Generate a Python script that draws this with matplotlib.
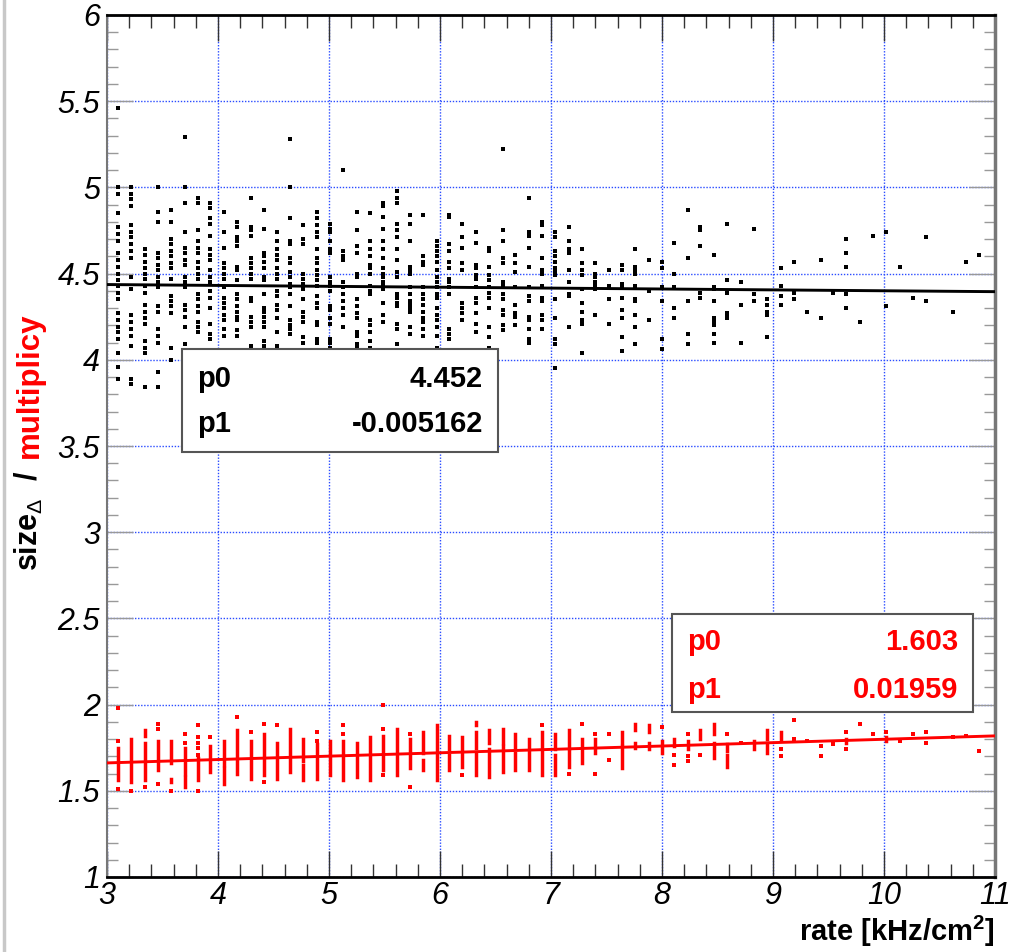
import numpy as np
import matplotlib
matplotlib.use("Agg")
import matplotlib.pyplot as plt
from matplotlib.ticker import MultipleLocator, FuncFormatter
from matplotlib.patches import Rectangle
from matplotlib.lines import Line2D

# ---------------- data ----------------
# rate bins (kHz/cm^2)
rate_bins = [3.10, 3.22, 3.34, 3.46, 3.58, 3.70, 3.82, 3.93, 4.05, 4.17,
             4.30, 4.41, 4.53, 4.65, 4.77, 4.89, 5.01, 5.13, 5.25, 5.37,
             5.49, 5.61, 5.73, 5.85, 5.97, 6.08, 6.20, 6.32, 6.44, 6.57,
             6.68, 6.80, 6.92, 7.04, 7.16, 7.28, 7.40, 7.52, 7.64, 7.76,
             7.88, 8.00, 8.11, 8.23, 8.34, 8.47, 8.59, 8.71, 8.83, 8.95,
             9.07, 9.19, 9.31, 9.43, 9.54, 9.66, 9.78, 9.90, 10.02, 10.14,
             10.26, 10.38, 10.62, 10.74, 10.86]

# cluster size per rate bin
size_values = [
    [5.46, 5.00, 4.96, 4.85, 4.77, 4.73, 4.69, 4.62, 4.58, 4.54, 4.50, 4.46, 4.43, 4.39, 4.35, 4.27, 4.23, 4.19, 4.16, 4.12, 4.04, 3.96, 3.89],
    [5.00, 4.96, 4.93, 4.89, 4.78, 4.74, 4.71, 4.67, 4.63, 4.59, 4.48, 4.41, 4.26, 4.22, 4.18, 4.14, 4.08, 3.89, 3.86],
    [4.64, 4.61, 4.57, 4.53, 4.50, 4.47, 4.43, 4.39, 4.32, 4.28, 4.24, 4.21, 4.11, 4.07, 4.04, 3.84],
    [5.00, 4.86, 4.80, 4.62, 4.59, 4.55, 4.52, 4.48, 4.45, 4.42, 4.31, 4.28, 4.18, 4.14, 4.10, 3.93, 3.84],
    [4.87, 4.80, 4.70, 4.67, 4.63, 4.60, 4.56, 4.53, 4.47, 4.37, 4.34, 4.31, 4.27, 4.07, 4.00],
    [5.29, 5.00, 4.91, 4.74, 4.65, 4.62, 4.58, 4.55, 4.48, 4.45, 4.42, 4.32, 4.29, 4.25, 4.19, 4.09],
    [4.94, 4.91, 4.75, 4.69, 4.65, 4.62, 4.57, 4.53, 4.50, 4.47, 4.38, 4.35, 4.31, 4.28, 4.22, 4.19, 4.16],
    [4.91, 4.88, 4.82, 4.79, 4.72, 4.64, 4.61, 4.58, 4.52, 4.48, 4.45, 4.40, 4.36, 4.30, 4.21, 4.15, 4.12],
    [4.86, 4.74, 4.65, 4.56, 4.53, 4.50, 4.47, 4.42, 4.36, 4.33, 4.30, 4.26, 4.23, 4.18, 4.14],
    [4.80, 4.77, 4.71, 4.69, 4.66, 4.54, 4.52, 4.46, 4.38, 4.35, 4.31, 4.28, 4.25, 4.23, 4.17, 4.14],
    [4.94, 4.77, 4.75, 4.72, 4.59, 4.56, 4.53, 4.50, 4.47, 4.36, 4.34, 4.25, 4.22, 4.19, 4.08],
    [4.87, 4.76, 4.62, 4.60, 4.57, 4.53, 4.48, 4.46, 4.38, 4.30, 4.28, 4.25, 4.22, 4.19, 4.11, 4.08],
    [4.74, 4.69, 4.64, 4.61, 4.58, 4.53, 4.50, 4.47, 4.40, 4.37, 4.32, 4.29, 4.24, 4.16, 4.08],
    [5.28, 5.00, 4.82, 4.69, 4.67, 4.59, 4.56, 4.51, 4.48, 4.44, 4.42, 4.38, 4.31, 4.23, 4.20, 4.18, 4.15],
    [4.78, 4.70, 4.67, 4.50, 4.47, 4.44, 4.41, 4.35, 4.28, 4.25, 4.22, 4.13, 4.10],
    [4.86, 4.82, 4.78, 4.74, 4.71, 4.64, 4.59, 4.56, 4.52, 4.49, 4.46, 4.43, 4.37, 4.33, 4.30, 4.22, 4.20, 4.12, 4.10],
    [4.79, 4.76, 4.74, 4.69, 4.64, 4.62, 4.48, 4.45, 4.43, 4.40, 4.31, 4.29, 4.24, 4.21, 4.12, 4.10, 4.07],
    [5.10, 4.63, 4.60, 4.58, 4.45, 4.42, 4.38, 4.34, 4.30, 4.26, 4.19],
    [4.86, 4.75, 4.66, 4.62, 4.50, 4.48, 4.35, 4.31, 4.27, 4.24, 4.16, 4.14, 4.09, 4.07],
    [4.85, 4.69, 4.64, 4.60, 4.55, 4.53, 4.50, 4.43, 4.40, 4.38, 4.23, 4.20, 4.16, 4.11, 4.07],
    [4.91, 4.89, 4.83, 4.76, 4.69, 4.64, 4.59, 4.53, 4.50, 4.48, 4.45, 4.43, 4.41, 4.33, 4.26, 4.22],
    [4.98, 4.94, 4.91, 4.79, 4.75, 4.71, 4.64, 4.58, 4.51, 4.48, 4.38, 4.36, 4.33, 4.31, 4.21, 4.18, 4.09],
    [4.84, 4.79, 4.69, 4.54, 4.52, 4.50, 4.42, 4.38, 4.34, 4.32, 4.30, 4.28, 4.19, 4.15],
    [4.84, 4.60, 4.57, 4.55, 4.42, 4.38, 4.35, 4.32, 4.28, 4.24, 4.22, 4.18, 4.14],
    [4.69, 4.66, 4.63, 4.60, 4.57, 4.52, 4.48, 4.45, 4.42, 4.38, 4.36, 4.30, 4.26, 4.23, 4.19, 4.14, 4.07],
    [4.84, 4.83, 4.67, 4.63, 4.57, 4.53, 4.47, 4.45, 4.42, 4.38, 4.18, 4.15, 4.12],
    [4.79, 4.71, 4.65, 4.56, 4.52, 4.33, 4.30, 4.27, 4.23],
    [4.74, 4.68, 4.55, 4.53, 4.49, 4.47, 4.42, 4.36, 4.33, 4.27, 4.21, 4.16],
    [4.65, 4.63, 4.54, 4.49, 4.46, 4.42, 4.39, 4.36, 4.30, 4.19, 4.13, 4.07],
    [5.22, 4.75, 4.69, 4.59, 4.56, 4.45, 4.43, 4.38, 4.35, 4.29, 4.26, 4.20, 4.17],
    [4.61, 4.56, 4.51, 4.42, 4.32, 4.27, 4.25, 4.20],
    [4.94, 4.74, 4.72, 4.65, 4.54, 4.42, 4.37, 4.34, 4.25, 4.23, 4.18, 4.12, 4.10],
    [4.80, 4.78, 4.72, 4.59, 4.52, 4.50, 4.43, 4.42, 4.36, 4.34, 4.26, 4.23, 4.18],
    [4.74, 4.71, 4.63, 4.60, 4.57, 4.53, 4.51, 4.49, 4.35, 4.24, 4.12, 4.09, 3.95],
    [4.77, 4.69, 4.64, 4.62, 4.52, 4.45, 4.38, 4.37, 4.19],
    [4.64, 4.56, 4.52, 4.49, 4.41, 4.33, 4.28, 4.23, 4.21, 4.04],
    [4.56, 4.50, 4.48, 4.45, 4.43, 4.41, 4.26],
    [4.52, 4.43, 4.35, 4.21],
    [4.55, 4.52, 4.44, 4.42, 4.36, 4.29, 4.24, 4.13, 4.05],
    [4.64, 4.54, 4.52, 4.50, 4.43, 4.35, 4.34, 4.26, 4.19, 4.09],
    [4.58, 4.40, 4.23],
    [4.57, 4.53, 4.42, 4.34, 4.12, 4.06],
    [4.68, 4.50, 4.42, 4.30, 4.24],
    [4.87, 4.59, 4.34, 4.15, 4.09],
    [4.77, 4.75, 4.66, 4.39, 4.36],
    [4.61, 4.42, 4.41, 4.34, 4.24, 4.22, 4.20, 4.15, 4.10],
    [4.79, 4.46, 4.39, 4.27, 4.25, 4.24],
    [4.45, 4.32, 4.10],
    [4.76, 4.38, 4.34],
    [4.35, 4.32, 4.28, 4.26, 4.13],
    [4.53, 4.43, 4.37, 4.32],
    [4.57, 4.39, 4.35],
    [4.28],
    [4.58, 4.24],
    [4.39],
    [4.70, 4.62, 4.54, 4.38, 4.30],
    [4.22],
    [4.72],
    [4.74, 4.31],
    [4.54],
    [4.36],
    [4.71, 4.34],
    [4.28],
    [4.57],
    [4.61],
]

# multiplicity: densely filled ranges per rate bin (rate, low, high)
mult_band_rate = [3.10, 3.22, 3.34, 3.34, 3.46, 3.58, 3.58, 3.70, 3.70, 3.82,
                  3.93, 4.05, 4.05, 4.17, 4.30, 4.41, 4.53, 4.65, 4.77, 4.77,
                  4.89, 5.01, 5.13, 5.25, 5.37, 5.49, 5.61, 5.73, 5.85, 5.85,
                  5.97, 6.08, 6.08, 6.20, 6.32, 6.32, 6.32, 6.44, 6.44, 6.57,
                  6.57, 6.68, 6.68, 6.80, 6.92, 7.04, 7.04, 7.16, 7.16, 7.28,
                  7.40, 7.64, 7.64, 7.76, 7.76, 7.88, 7.88, 8.00, 8.11, 8.23,
                  8.34, 8.47, 8.47, 8.59, 8.59, 8.83, 8.95, 8.95, 9.07, 9.66,
                  10.02]
mult_band_low = [1.56, 1.55, 1.82, 1.56, 1.62, 1.66, 1.55, 1.60, 1.52, 1.56,
                 1.61, 1.65, 1.54, 1.60, 1.57, 1.59, 1.57, 1.61, 1.67, 1.56,
                 1.57, 1.59, 1.56, 1.58, 1.56, 1.62, 1.59, 1.63, 1.72, 1.62,
                 1.56, 1.74, 1.62, 1.64, 1.88, 1.75, 1.59, 1.78, 1.58, 1.78,
                 1.61, 1.75, 1.62, 1.62, 1.59, 1.74, 1.59, 1.75, 1.64, 1.66,
                 1.72, 1.78, 1.63, 1.85, 1.75, 1.84, 1.74, 1.72, 1.76, 1.74,
                 1.80, 1.83, 1.69, 1.73, 1.64, 1.74, 1.80, 1.72, 1.80, 1.78,
                 1.79]
mult_band_high = [1.75, 1.80, 1.85, 1.78, 1.79, 1.79, 1.57, 1.75, 1.58, 1.69,
                  1.76, 1.79, 1.63, 1.85, 1.79, 1.83, 1.78, 1.86, 1.80, 1.65,
                  1.77, 1.79, 1.79, 1.78, 1.81, 1.82, 1.86, 1.80, 1.84, 1.68,
                  1.88, 1.82, 1.71, 1.81, 1.90, 1.84, 1.72, 1.85, 1.74, 1.86,
                  1.76, 1.83, 1.72, 1.80, 1.84, 1.83, 1.71, 1.85, 1.73, 1.80,
                  1.80, 1.84, 1.76, 1.89, 1.78, 1.88, 1.78, 1.79, 1.80, 1.79,
                  1.85, 1.89, 1.78, 1.77, 1.71, 1.79, 1.85, 1.78, 1.84, 1.80,
                  1.81]

# multiplicity: isolated entries (rate, value)
mult_point_rate = [3.10, 3.10, 3.10, 3.22, 3.34, 3.46, 3.46, 3.46, 3.58, 3.70,
                   3.70, 3.82, 3.82, 3.82, 3.82, 3.82, 3.82, 3.93, 4.17, 4.30,
                   4.41, 4.41, 4.53, 4.89, 4.89, 5.13, 5.13, 5.49, 5.49, 5.49,
                   5.73, 5.73, 6.20, 6.92, 7.16, 7.28, 7.40, 7.40, 7.52, 7.52,
                   8.00, 8.11, 8.11, 8.23, 8.23, 8.23, 8.34, 8.59, 8.71, 9.07,
                   9.07, 9.19, 9.19, 9.31, 9.43, 9.43, 9.54, 9.66, 9.66, 9.78,
                   9.90, 10.02, 10.14, 10.26, 10.38, 10.38, 10.62, 10.74, 10.86]
mult_point_value = [1.98, 1.79, 1.51, 1.50, 1.52, 1.89, 1.86, 1.54, 1.50, 1.83,
                    1.78, 1.88, 1.81, 1.78, 1.75, 1.71, 1.50, 1.81, 1.93, 1.84,
                    1.89, 1.55, 1.88, 1.84, 1.79, 1.88, 1.83, 2.00, 1.86, 1.59,
                    1.83, 1.52, 1.59, 1.88, 1.60, 1.89, 1.83, 1.60, 1.83, 1.68,
                    1.87, 1.71, 1.65, 1.83, 1.70, 1.67, 1.71, 1.83, 1.78, 1.74,
                    1.70, 1.91, 1.80, 1.79, 1.76, 1.70, 1.77, 1.84, 1.74, 1.89,
                    1.83, 1.84, 1.79, 1.83, 1.84, 1.78, 1.81, 1.82, 1.73]

# linear fit results  y = p0 + p1 * rate
size_fit = (4.452, -0.005162)
mult_fit = (1.603, 0.01959)

# ---------------- style ----------------
FONT = "Liberation Sans"
plt.rcParams["font.family"] = [FONT, "DejaVu Sans"]
plt.rcParams["mathtext.fontset"] = "custom"
plt.rcParams["mathtext.rm"] = FONT
plt.rcParams["mathtext.bf"] = FONT + ":bold"

W, H = 1010, 952
fig = plt.figure(figsize=(W / 100, H / 100), dpi=100)
fig.patch.set_facecolor("white")


def fx(px):
    return px / W


def fy(py):
    return 1 - py / H


L, R, T, B = 107, 995, 15, 877
ax = fig.add_axes([fx(L), fy(B), (R - L) / W, (B - T) / H])
ax.set_xlim(3, 11)
ax.set_ylim(1, 6)

# ---------------- marks ----------------
sx = [r for r, vals in zip(rate_bins, size_values) for _ in vals]
sy = [v for vals in size_values for v in vals]
ax.scatter(sx, sy, marker="s", s=7, c="black", linewidths=0, zorder=3)

ax.vlines(mult_band_rate, mult_band_low, mult_band_high, colors="red",
          linewidth=2.5, capstyle="projecting", zorder=3)
ax.scatter(mult_point_rate, mult_point_value, marker="s", s=7, c="red",
           linewidths=0, zorder=3)

xfit = np.array([3.0, 11.0])
ax.plot(xfit, size_fit[0] + size_fit[1] * xfit, color="black", lw=2.1, zorder=4)
ax.plot(xfit, mult_fit[0] + mult_fit[1] * xfit, color="red", lw=2.1, zorder=4)

# ---------------- axes ----------------
ax.xaxis.set_major_locator(MultipleLocator(1))
ax.xaxis.set_minor_locator(MultipleLocator(0.2))
ax.yaxis.set_major_locator(MultipleLocator(0.5))
ax.yaxis.set_minor_locator(MultipleLocator(0.1))
fmt = FuncFormatter(lambda v, p: "%g" % v)
ax.xaxis.set_major_formatter(fmt)
ax.yaxis.set_major_formatter(fmt)

ax.tick_params(which="both", direction="in", top=True, right=True)
ax.tick_params(axis="x", which="major", length=19, width=1.0, color="#333333",
               labelsize=22, pad=3)
ax.tick_params(axis="x", which="minor", length=9.5, width=1.0, color="#333333")
ax.tick_params(axis="y", which="major", length=19, width=1.0, color="#999999",
               labelsize=22, pad=5)
ax.tick_params(axis="y", which="minor", length=8, width=1.0, color="#999999")
for lbl in ax.get_xticklabels() + ax.get_yticklabels():
    lbl.set_fontstyle("italic")

ax.grid(which="major", color="#2a4cff", linestyle=(0, (1, 1.2)), linewidth=1.0)
ax.set_axisbelow(True)

ax.spines["left"].set_color("#777777")
ax.spines["left"].set_linewidth(1.5)
ax.spines["right"].set_color("#777777")
ax.spines["right"].set_linewidth(2.5)
ax.spines["top"].set_color("black")
ax.spines["top"].set_linewidth(2)
ax.spines["bottom"].set_color("black")
ax.spines["bottom"].set_linewidth(2)

# canvas edge
fig.add_artist(Line2D([fx(3.5), fx(3.5)], [0, 1], transform=fig.transFigure,
                      color="#c8c8c8", lw=2.5))

# ---------------- fit parameter boxes ----------------
def param_box(x0, y0, x1, y1, rows, color):
    fig.add_artist(Rectangle((fx(x0), fy(y1)), (x1 - x0) / W, (y1 - y0) / H,
                             transform=fig.transFigure, facecolor="white",
                             edgecolor="#555555", linewidth=1.5, zorder=5))
    for name, value, base in rows:
        fig.text(fx(x0 + 15), fy(base), name, ha="left", va="baseline",
                 fontsize=21, fontweight="bold", color=color, zorder=6)
        fig.text(fx(x1 - 15), fy(base), value, ha="right", va="baseline",
                 fontsize=21, fontweight="bold", color=color, zorder=6)


param_box(182, 349, 498, 452,
          [("p0", "%.3f" % size_fit[0], 387), ("p1", "%.6f" % size_fit[1], 432)],
          "black")
param_box(672, 614, 973, 712,
          [("p0", "%.3f" % mult_fit[0], 650), ("p1", "%.5f" % mult_fit[1], 698)],
          "red")

# ---------------- axis titles ----------------
fig.text(fx(995), fy(941), r"rate [kHz/cm$^{\mathbf{2}}$]", ha="right",
         va="baseline", fontsize=21, fontweight="bold")

ylab1 = fig.text(fx(38), fy(571), r"size$_{\Delta}$  /", rotation=90,
                 rotation_mode="anchor", ha="left", va="baseline",
                 fontsize=22, fontweight="bold", color="black")
fig.canvas.draw()
ext = ylab1.get_window_extent()
ylab2 = fig.text(fx(38), (ext.y1 + 13) / H, "multiplicy", rotation=90,
                 rotation_mode="anchor", ha="left", va="baseline",
                 fontsize=22.5, fontweight="bold", color="red")

fig.savefig("out.png", dpi=100, facecolor="white")
